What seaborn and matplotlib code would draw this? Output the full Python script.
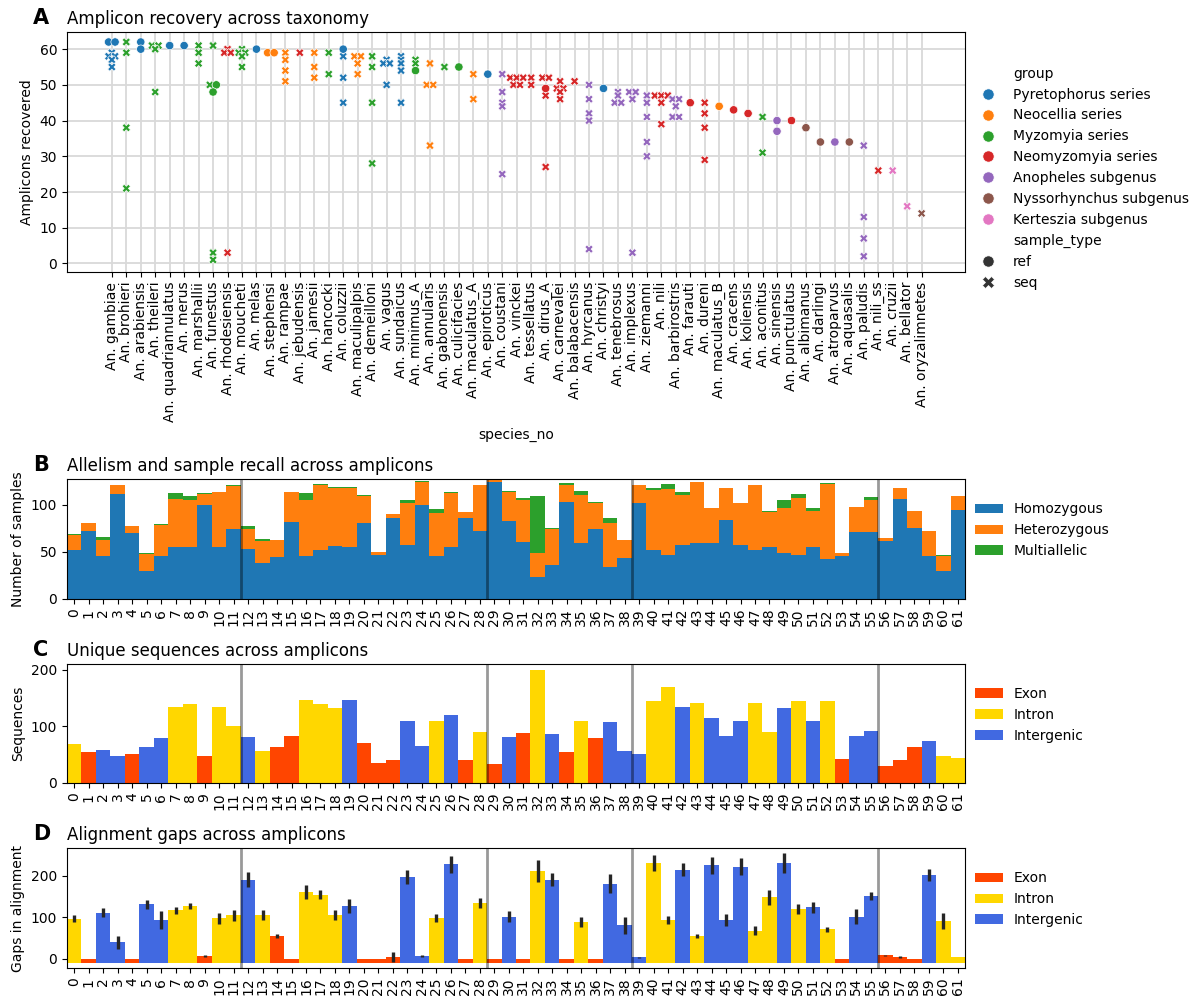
import matplotlib
matplotlib.use("Agg")
import matplotlib.pyplot as plt
from matplotlib.patches import Patch
import numpy as np
import pandas as pd
import seaborn as sns

# ---------------------------------------------------------------- panel A data
species = [
    "An. gambiae", "An. brohieri", "An. arabiensis", "An. theileri",
    "An. quadriannulatus", "An. merus", "An. marshallii", "An. funestus",
    "An. rhodesiensis", "An. moucheti", "An. melas", "An. stephensi",
    "An. rampae", "An. jebudensis", "An. jamesii", "An. hancocki",
    "An. coluzzii", "An. maculipalpis", "An. demeilloni", "An. vagus",
    "An. sundaicus", "An. minimus_A", "An. annularis", "An. gabonensis",
    "An. culicifacies", "An. maculatus_A", "An. epiroticus", "An. coustani",
    "An. vinckei", "An. tessellatus", "An. dirus_A", "An. carnevalei",
    "An. balabacensis", "An. hyrcanus", "An. christyi", "An. tenebrosus",
    "An. implexus", "An. ziemanni", "An. nili", "An. barbirostris",
    "An. farauti", "An. dureni", "An. maculatus_B", "An. cracens",
    "An. koliensis", "An. aconitus", "An. sinensis", "An. punctulatus",
    "An. albimanus", "An. darlingi", "An. atroparvus", "An. aquasalis",
    "An. paludis", "An. nili_ss", "An. cruzii", "An. bellator",
    "An. oryzalimnetes",
]

PYR, NEO, MYZ, NMY = "Pyretophorus series", "Neocellia series", "Myzomyia series", "Neomyzomyia series"
ANO, NYS, KER = "Anopheles subgenus", "Nyssorhynchus subgenus", "Kerteszia subgenus"
group_order = [PYR, NEO, MYZ, NMY, ANO, NYS, KER]

species_group = [
    PYR, MYZ, PYR, MYZ, PYR, PYR, MYZ, MYZ, NMY, MYZ,
    PYR, NEO, NEO, NMY, NEO, MYZ, PYR, NEO, MYZ, PYR,
    PYR, MYZ, NEO, MYZ, MYZ, NEO, PYR, ANO, NMY, NMY,
    NMY, NMY, NMY, ANO, PYR, ANO, ANO, ANO, NMY, ANO,
    NMY, NMY, NEO, NMY, NMY, MYZ, ANO, NMY, NYS, NYS,
    ANO, NYS, ANO, NMY, KER, KER, NYS,
]

# amplicons recovered from reference genomes / sequenced samples
ref_recovered = [
    [62, 62], [], [62, 60], [], [61], [61], [], [50, 48], [], [],
    [60], [59, 59], [], [], [], [], [60], [], [], [],
    [], [54], [], [], [55], [], [53], [], [], [],
    [49], [], [], [], [49], [], [], [], [], [],
    [45], [], [44], [43], [42], [], [40, 37], [40], [38], [34],
    [34], [34], [], [], [], [], [],
]
seq_recovered = [
    [59, 58, 58, 57, 55], [62, 59, 38, 21], [], [61, 61, 60, 48], [], [],
    [61, 59, 56], [61, 50, 3, 1], [60, 59, 59, 3], [60, 59, 59, 58, 55],
    [], [], [59, 57, 54, 51], [59], [59, 55, 52], [59, 53], [58, 52, 45],
    [58, 58, 56, 53], [58, 55, 45, 28], [57, 56, 56, 50],
    [58, 57, 56, 54, 45], [57, 56], [56, 50, 50, 33], [55], [], [53, 46],
    [], [53, 48, 45, 44, 25], [52, 52, 52, 50, 50], [52, 50],
    [52, 52, 47, 27], [51, 49, 49, 48, 46], [51], [50, 46, 42, 40, 4], [],
    [48, 47, 45, 45], [48, 48, 46, 3], [47, 45, 41, 34, 30],
    [47, 47, 47, 45, 39], [46, 46, 44, 41, 41], [], [45, 42, 38, 29], [],
    [], [], [41, 31], [], [], [], [], [], [], [33, 13, 7, 2], [26], [26],
    [16], [14],
]

# ---------------------------------------------------------------- panel B data
homozygous = [
    52, 72, 46, 111, 70, 30, 46, 55, 55, 99, 55, 74, 53, 38, 44, 81, 46, 52,
    56, 55, 80, 47, 86, 57, 99, 46, 55, 86, 72, 124, 83, 60, 23, 36, 103, 59,
    74, 34, 43, 102, 52, 47, 57, 59, 59, 84, 57, 52, 55, 49, 47, 55, 42, 45,
    71, 71, 61, 106, 75, 46, 30, 94,
]
heterozygous = [
    16, 8, 16, 10, 7, 18, 32, 51, 50, 12, 58, 46, 21, 23, 18, 32, 59, 69,
    62, 63, 29, 3, 4, 45, 25, 45, 57, 6, 49, 3, 30, 45, 26, 38, 18, 51,
    28, 46, 19, 19, 63, 69, 53, 65, 37, 33, 45, 69, 37, 47, 60, 38, 80, 4,
    26, 34, 4, 11, 18, 26, 16, 15,
]
multiallelic = [
    1, 0, 4, 0, 0, 1, 1, 6, 4, 1, 0, 1, 3, 2, 0, 0, 7, 1,
    1, 1, 1, 0, 0, 3, 1, 4, 1, 0, 0, 0, 1, 2, 60, 1, 2, 4,
    1, 6, 0, 0, 3, 6, 3, 0, 0, 0, 0, 0, 1, 9, 4, 3, 1, 0,
    0, 3, 0, 0, 0, 0, 1, 0,
]

# ---------------------------------------------------------------- panels C/D data
E, I, G = "Exon", "Intron", "Intergenic"
region_order = [E, I, G]
amplicon_region = [
    I, E, G, G, E, G, G, I, I, E, I, I, G, I, E, E, I, I, I, G,
    E, E, E, G, G, I, G, E, I, E, G, E, I, G, E, I, E, G, G, G,
    I, I, G, I, G, G, G, I, I, G, I, G, I, E, G, G, E, E, E, G,
    I, I,
]
unique_sequences = [
    69, 54, 59, 47, 52, 64, 79, 134, 139, 47, 134, 100, 81, 57, 64, 83,
    146, 139, 132, 146, 71, 35, 40, 110, 66, 110, 120, 40, 90, 34, 81, 88,
    200, 86, 54, 110, 79, 108, 57, 52, 144, 170, 134, 142, 115, 83, 110,
    142, 90, 132, 144, 110, 144, 43, 83, 91, 30, 40, 64, 74, 47, 45,
]
gap_mean = [
    97, 0, 111, 40, 0, 131, 94, 117, 127, 7, 98, 105, 191, 105, 55, 0,
    161, 155, 105, 128, 0, 0, 4, 198, 7, 98, 228, 0, 135, 0, 102, 0,
    211, 191, 0, 88, 0, 181, 81, 4, 231, 94, 215, 55, 225, 94, 222, 68,
    148, 231, 121, 124, 71, 0, 102, 152, 8, 5, 0, 202, 91, 4,
]
gap_err = [
    8, 0, 11, 16, 0, 11, 22, 8, 8, 2, 13, 13, 18, 12, 5, 0,
    18, 10, 12, 17, 0, 0, 12, 17, 2, 9, 20, 0, 12, 0, 13, 0,
    27, 15, 0, 12, 0, 23, 20, 1, 20, 10, 15, 5, 21, 15, 20, 11,
    18, 23, 12, 13, 6, 0, 18, 10, 2, 2, 0, 14, 20, 0,
]

section_breaks = [11.5, 28.5, 38.5, 55.5]

group_palette = dict(zip(group_order, sns.color_palette("tab10", 7)))
allele_palette = {"Homozygous": "#1f77b4", "Heterozygous": "#ff7f0e",
                  "Multiallelic": "#2ca02c"}
region_palette = {E: "orangered", I: "gold", G: "royalblue"}

# ---------------------------------------------------------------- figure
W, H = 1197, 998
fig = plt.figure(figsize=(W / 100, H / 100), dpi=100)


def add_axes_px(left, top, right, bottom):
    return fig.add_axes([left / W, 1 - bottom / H, (right - left) / W,
                         (bottom - top) / H])


ax_a = add_axes_px(67, 32, 965, 272)
ax_b = add_axes_px(67, 479, 965, 599)
ax_c = add_axes_px(67, 664, 965, 783)
ax_d = add_axes_px(67, 848, 965, 968)


def panel_title(ax, letter, text):
    ax.set_title(text, loc="left", fontsize=12)
    ax.annotate(letter, xy=(0, 1), xycoords="axes fraction",
                xytext=(-24.5, 6), textcoords="offset points",
                fontsize=15, fontweight="bold", ha="left", va="baseline")


# ---------------------------------------------------------------- A: scatter
rows = []
for i, (grp, refs, seqs) in enumerate(zip(species_group, ref_recovered,
                                          seq_recovered)):
    pts = [("seq", v) for v in seqs] + [("ref", v) for v in refs]
    values = [v for _, v in pts]
    seen = {}
    for kind, v in pts:
        n = values.count(v)
        k = seen.get(v, 0)
        seen[v] = k + 1
        # spread coincident points sideways so they stay visible
        rows.append(dict(species_no=i + (k - (n - 1) / 2) * 0.45,
                         amplicons=v, group=grp, sample_type=kind))
df_a = pd.DataFrame(rows)

sns.scatterplot(data=df_a, x="species_no", y="amplicons", hue="group",
                hue_order=group_order, palette=group_palette,
                style="sample_type", style_order=["ref", "seq"],
                markers={"ref": "o", "seq": "X"}, ax=ax_a)
ax_a.set_xticks(range(len(species)))
ax_a.set_xticklabels(species, rotation=90)
ax_a.set_xlim(-3.1, len(species) + 2.0)
ax_a.set_ylim(-2.4, 64.8)
ax_a.set_ylabel("Amplicons recovered")
ax_a.set_xlabel("species_no")
ax_a.grid(True, color="0.85", linewidth=1.3)
ax_a.set_axisbelow(True)
sns.move_legend(ax_a, "upper left", bbox_to_anchor=(0.996, 0.908),
                frameon=False, markerscale=1.35)
panel_title(ax_a, "A", "Amplicon recovery across taxonomy")

amplicons = np.arange(len(homozygous))
ticks = list(amplicons)


def finish_amplicon_axis(ax):
    ax.set_xlim(-0.5, len(amplicons) - 0.5)
    ax.set_xticks(ticks)
    ax.set_xticklabels([str(t) for t in ticks], rotation=90)
    ax.set_xlabel("")
    for xb in section_breaks:
        ax.axvline(xb, color="black", alpha=0.4, linewidth=2, zorder=5)


def patch_legend(ax, labels, palette):
    handles = [Patch(facecolor=palette[l], edgecolor="none") for l in labels]
    ax.legend(handles, labels, loc="upper left", bbox_to_anchor=(0.997, 0.91),
              frameon=False)


# ---------------------------------------------------------------- B: stacked
df_b = pd.DataFrame({
    "amplicon": np.tile(amplicons, 3),
    "allele": np.repeat(["Homozygous", "Heterozygous", "Multiallelic"],
                        len(amplicons)),
    "count": np.concatenate([homozygous, heterozygous, multiallelic]),
})
sns.histplot(data=df_b, x="amplicon", weights="count", hue="allele",
             hue_order=["Multiallelic", "Heterozygous", "Homozygous"],
             palette=allele_palette, multiple="stack", discrete=True,
             element="step", alpha=1, linewidth=0, legend=False, ax=ax_b)
totals = np.array(homozygous) + np.array(heterozygous) + np.array(multiallelic)
ax_b.set_ylim(0, totals.max())
ax_b.set_ylabel("Number of samples")
finish_amplicon_axis(ax_b)
patch_legend(ax_b, ["Homozygous", "Heterozygous", "Multiallelic"],
             allele_palette)
panel_title(ax_b, "B", "Allelism and sample recall across amplicons")

# ---------------------------------------------------------------- C: bars
df_c = pd.DataFrame({"amplicon": amplicons, "region": amplicon_region,
                     "sequences": unique_sequences, "gaps": gap_mean,
                     "gap_err": gap_err})
sns.barplot(data=df_c, x="amplicon", y="sequences", hue="region",
            hue_order=region_order, palette=region_palette, width=1,
            saturation=1, errorbar=None, legend=False, ax=ax_c)
ax_c.set_ylabel("Sequences")
finish_amplicon_axis(ax_c)
patch_legend(ax_c, region_order, region_palette)
panel_title(ax_c, "C", "Unique sequences across amplicons")

# ---------------------------------------------------------------- D: bars + errors
sns.barplot(data=df_c, x="amplicon", y="gaps", hue="region",
            hue_order=region_order, palette=region_palette, width=1,
            saturation=1, errorbar=None, legend=False, ax=ax_d)
# extend every bar a little below zero so empty amplicons remain visible
baseline = -9
for p in ax_d.patches:
    p.set_height(p.get_height() - baseline)
    p.set_y(baseline)
err_lo = df_c["gaps"] - df_c["gap_err"]
err_hi = df_c["gaps"] + df_c["gap_err"]
has_err = df_c["gap_err"] > 0
ax_d.vlines(df_c.loc[has_err, "amplicon"], err_lo[has_err], err_hi[has_err],
            color="0.15", linewidth=2.4, zorder=4)
span = err_hi.max() - baseline
ax_d.set_ylim(baseline - 0.05 * span, err_hi.max() + 0.05 * span)
ax_d.set_ylabel("Gaps in alignment")
finish_amplicon_axis(ax_d)
patch_legend(ax_d, region_order, region_palette)
panel_title(ax_d, "D", "Alignment gaps across amplicons")

fig.savefig("out.png", dpi=100)
